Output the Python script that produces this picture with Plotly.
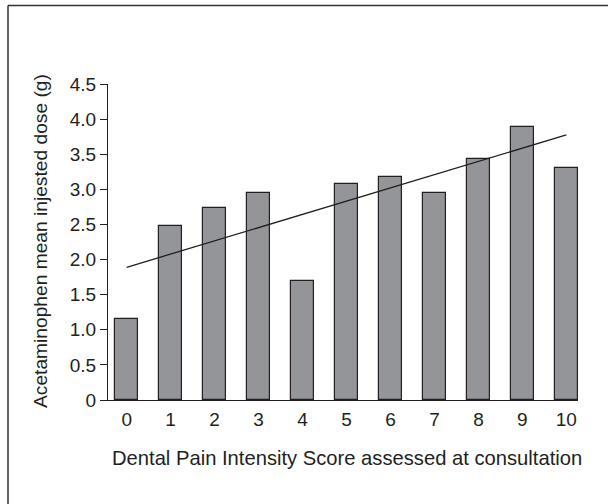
import plotly.graph_objects as go

scores = [0, 1, 2, 3, 4, 5, 6, 7, 8, 9, 10]
mean_dose = [1.16, 2.48, 2.74, 2.95, 1.70, 3.07, 3.18, 2.95, 3.43, 3.89, 3.31]
trend_x = [0, 10]
trend_y = [1.89, 3.775]
y_ticks = [0, 0.5, 1.0, 1.5, 2.0, 2.5, 3.0, 3.5, 4.0, 4.5]
y_tick_text = ["0", "0.5", "1.0", "1.5", "2.0", "2.5", "3.0", "3.5", "4.0", "4.5"]
x_title = "Dental Pain Intensity Score assessed at consultation"
y_title = "Acetaminophen mean injested dose (g)"

W, H = 608, 504
L, R, T, B = 108, 30, 84, 104
pw, ph = W - L - R, H - T - B

FONT = "Liberation Sans, Arial, Helvetica, sans-serif"
TXT = "#231f20"

def px_to_paper_x(px):
    return (px - L) / pw

def px_to_paper_y(py):
    return (H - B - py) / ph

fig = go.Figure()
fig.add_trace(go.Bar(
    x=scores, y=mean_dose, width=0.53,
    marker=dict(color="#939598", line=dict(color="#231f20", width=1.2)),
    showlegend=False, hoverinfo="x+y",
))
fig.add_trace(go.Scatter(
    x=trend_x, y=trend_y, mode="lines",
    line=dict(color="#231f20", width=1.3),
    showlegend=False, hoverinfo="skip",
))

frame_line = dict(color="#333333", width=1.5)
# top edge of the outer frame
fig.add_shape(type="line", xref="paper", yref="paper",
              x0=px_to_paper_x(8), x1=px_to_paper_x(610),
              y0=px_to_paper_y(5.5), y1=px_to_paper_y(5.5),
              line=frame_line, layer="above")
# left edge of the outer frame
fig.add_shape(type="line", xref="paper", yref="paper",
              x0=px_to_paper_x(8), x1=px_to_paper_x(8),
              y0=px_to_paper_y(5.5), y1=px_to_paper_y(506),
              line=frame_line, layer="above")

fig.add_annotation(text=x_title, xref="paper", yref="paper",
                   x=px_to_paper_x(346.5), y=px_to_paper_y(458),
                   xanchor="center", yanchor="middle", showarrow=False,
                   font=dict(size=20.2, color=TXT))
fig.add_annotation(text=y_title, xref="paper", yref="paper",
                   x=px_to_paper_x(40), y=px_to_paper_y(241),
                   xanchor="center", yanchor="middle", showarrow=False,
                   textangle=-90, font=dict(size=19.2, color=TXT))

fig.update_layout(
    width=W, height=H,
    margin=dict(l=L, r=R, t=T, b=B, pad=0),
    paper_bgcolor="white", plot_bgcolor="white",
    font=dict(family=FONT, size=19, color=TXT),
    bargap=0,
    xaxis=dict(
        range=[-0.425, 10.265], automargin=False,
        tickmode="array", tickvals=scores, ticktext=[str(s) for s in scores],
        ticks="outside", ticklen=2, tickcolor="rgba(0,0,0,0)",
        showline=True, linecolor="#231f20", linewidth=1.2,
        showgrid=False, zeroline=False,
        tickfont=dict(size=19, color=TXT),
    ),
    yaxis=dict(
        range=[0, 4.5], automargin=False,
        tickmode="array", tickvals=y_ticks, ticktext=y_tick_text,
        ticks="outside", ticklen=7, tickcolor="#231f20", tickwidth=1,
        showline=True, linecolor="#231f20", linewidth=1.2,
        showgrid=False, zeroline=False,
        tickfont=dict(size=19, color=TXT),
    ),
)

fig.write_html("out.html", config={"displayModeBar": False},
               post_script="document.body.style.margin='0';document.body.style.overflow='hidden';")
